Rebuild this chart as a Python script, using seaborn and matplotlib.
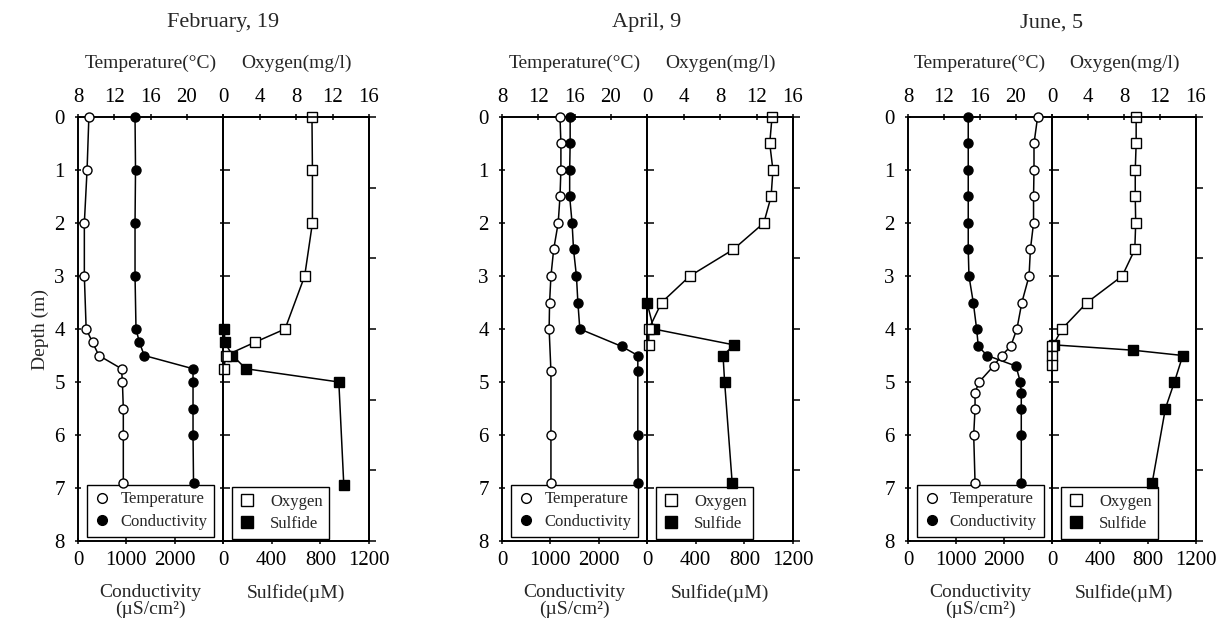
import matplotlib
matplotlib.use("Agg")
import matplotlib.pyplot as plt
from matplotlib.lines import Line2D
import numpy as np
import seaborn as sns

# values
dates = ["February, 19", "April, 9", "June, 5"]

# February 19
feb_tc_depth = [0, 1, 2, 3, 4, 4.25, 4.5, 4.75, 5, 5.5, 6, 6.9]
feb_temp = [9.2, 9.0, 8.7, 8.7, 8.9, 9.6, 10.3, 12.8, 12.9, 13.0, 13.0, 13.0]
feb_cond = [1180, 1190, 1180, 1180, 1200, 1270, 1370, 2380, 2380, 2380, 2380, 2390]
feb_oxy_depth = [0, 1, 2, 3, 4, 4.25, 4.5, 4.75]
feb_oxygen = [9.75, 9.8, 9.8, 8.95, 6.8, 3.5, 0.3, 0.1]
feb_sulf_depth = [4, 4.25, 4.5, 4.75, 5, 6.95]
feb_sulfide = [12, 14, 78, 188, 952, 993]

# April 9
apr_temp_depth = [0, 0.5, 1, 1.5, 2, 2.5, 3, 3.5, 4, 4.8, 6, 6.9]
apr_temp = [14.4, 14.5, 14.5, 14.4, 14.2, 13.7, 13.4, 13.25, 13.2, 13.4, 13.4, 13.4]
apr_cond_depth = [0, 0.5, 1, 1.5, 2, 2.5, 3, 3.5, 4, 4.33, 4.5, 4.8, 6, 6.9]
apr_cond = [1410, 1410, 1400, 1400, 1450, 1480, 1540, 1570, 1610, 2480, 2810, 2810, 2810, 2815]
apr_oxy_depth = [0, 0.5, 1, 1.5, 2, 2.5, 3, 3.5, 4, 4.3]
apr_oxygen = [13.7, 13.45, 13.8, 13.6, 12.8, 9.45, 4.7, 1.6, 0.2, 0.2]
apr_sulf_depth = [3.5, 4.0, 4.3, 4.5, 5.0, 6.9]
apr_sulfide = [0, 55, 715, 625, 638, 700]

# June 5
jun_tc_depth = [0, 0.5, 1, 1.5, 2, 2.5, 3, 3.5, 4, 4.33, 4.5, 4.7, 5, 5.2, 5.5, 6, 6.9]
jun_temp = [22.4, 22.0, 22.0, 21.95, 21.95, 21.6, 21.45, 20.65, 20.1, 19.4, 18.4, 17.5,
            15.9, 15.45, 15.45, 15.3, 15.45]
jun_cond = [1255, 1255, 1255, 1255, 1255, 1255, 1270, 1360, 1430, 1465, 1650, 2250,
            2340, 2360, 2360, 2360, 2360]
jun_oxy_depth = [0, 0.5, 1, 1.5, 2, 2.5, 3, 3.5, 4, 4.33, 4.5, 4.67]
jun_oxygen = [9.35, 9.35, 9.25, 9.25, 9.3, 9.2, 7.8, 3.9, 1.1, 0.05, 0.05, 0.05]
jun_sulf_depth = [4.3, 4.4, 4.5, 5.0, 5.5, 6.9]
jun_sulfide = [20, 675, 1090, 1020, 945, 835]

sns.set_theme(style="ticks")
plt.rcParams["font.family"] = ["Liberation Serif", "DejaVu Serif"]
plt.rcParams["axes.linewidth"] = 1.2
plt.rcParams["xtick.color"] = "black"
plt.rcParams["ytick.color"] = "black"

W, H = 1222, 623
fig = plt.figure(figsize=(W / 100, H / 100), dpi=100)

bottom = 1 - 541 / H
height = (541 - 117) / H

panels = [
    (78, 223, 369, (feb_tc_depth, feb_temp), (feb_tc_depth, feb_cond),
     (feb_oxy_depth, feb_oxygen), (feb_sulf_depth, feb_sulfide)),
    (502, 647, 793, (apr_temp_depth, apr_temp), (apr_cond_depth, apr_cond),
     (apr_oxy_depth, apr_oxygen), (apr_sulf_depth, apr_sulfide)),
    (908, 1052, 1196, (jun_tc_depth, jun_temp), (jun_tc_depth, jun_cond),
     (jun_oxy_depth, jun_oxygen), (jun_sulf_depth, jun_sulfide)),
]


def profile(ax, depth, vals, marker, fill, ms):
    sns.lineplot(x=vals, y=depth, ax=ax, sort=False, estimator=None, color="black",
                 lw=1.1, marker=marker, markersize=ms, markerfacecolor=fill,
                 markeredgecolor="black", markeredgewidth=1, legend=False,
                 clip_on=False, zorder=3)


def box_legend(ax, handles, **kw):
    leg = ax.legend(handles=handles, fancybox=False, edgecolor="black", framealpha=1,
                    fontsize=12, borderaxespad=0, handlelength=1.0,
                    labelspacing=0.4, borderpad=0.4, **kw)
    leg.get_frame().set_linewidth(1.0)
    leg.set_zorder(2.5)


tick_kw = dict(labelsize=15, width=1.1, length=5)

for i, (l, m, r, temp, cond, oxy, sulf) in enumerate(panels):
    # left pair: conductivity (bottom) / temperature (top)
    ax_l = fig.add_axes([l / W, bottom, (m - l) / W, height])
    ax_t = ax_l.twiny()
    profile(ax_l, cond[0], cond[1], "o", "black", 6.5)
    profile(ax_t, temp[0], temp[1], "o", "white", 6.5)
    ax_l.set_xlim(0, 3000)
    ax_t.set_xlim(8, 24)
    ax_l.set_ylim(8, 0)
    ax_l.set_xticks([0, 1000, 2000, 3000], ["0", "1000", "2000", ""])
    ax_t.set_xticks([8, 12, 16, 20, 24], ["8", "12", "16", "20", ""])
    ax_l.set_yticks(range(0, 9), [str(d) for d in range(0, 9)])
    ax_l.tick_params(axis="x", direction="inout", pad=5, **tick_kw)
    ax_t.tick_params(axis="x", direction="inout", pad=5, **tick_kw)
    ax_l.tick_params(axis="y", direction="inout", right=True, pad=7, **tick_kw)
    ax_l.set_xlabel("Conductivity\n(µS/cm²)", fontsize=14, labelpad=10, linespacing=0.95)
    ax_t.set_xlabel("Temperature(°C)", fontsize=14, labelpad=14)
    ax_l.set_ylabel("")
    ax_t.set_ylabel("")

    # right pair: sulfide (bottom) / oxygen (top)
    ax_r = fig.add_axes([m / W, bottom, (r - m) / W, height])
    ax_o = ax_r.twiny()
    profile(ax_r, sulf[0], sulf[1], "s", "black", 7)
    profile(ax_o, oxy[0], oxy[1], "s", "white", 7)
    ax_r.set_xlim(0, 1200)
    ax_o.set_xlim(0, 16)
    ax_r.set_ylim(8, 0)
    ax_r.set_xticks([0, 400, 800, 1200])
    ax_o.set_xticks([0, 4, 8, 12, 16])
    ax_r.set_yticks(range(0, 9), [])
    ax_r.tick_params(axis="x", direction="inout", pad=5, **tick_kw)
    ax_o.tick_params(axis="x", direction="inout", pad=5, **tick_kw)
    ax_r.tick_params(axis="y", direction="in", **tick_kw)
    ax_r.set_xlabel("Sulfide(µM)", fontsize=14, labelpad=10)
    ax_o.set_xlabel("Oxygen(mg/l)", fontsize=14, labelpad=14)
    ax_r.set_ylabel("")
    ax_o.set_ylabel("")

    ax_rr = ax_r.twinx()
    ax_rr.set_ylim(8, 0)
    ax_rr.set_yticks(np.linspace(0, 8, 7), [])
    ax_rr.tick_params(axis="y", direction="out", **tick_kw)

    for a in (ax_l, ax_t, ax_r, ax_o, ax_rr):
        for s in a.spines.values():
            s.set_visible(True)
            s.set_color("black")
            s.set_linewidth(1.2)

    h_left = [
        Line2D([], [], ls="none", marker="o", mfc="white", mec="black", ms=7, label="Temperature"),
        Line2D([], [], ls="none", marker="o", mfc="black", mec="black", ms=7, label="Conductivity"),
    ]
    h_right = [
        Line2D([], [], ls="none", marker="s", mfc="white", mec="black", ms=8, label="Oxygen"),
        Line2D([], [], ls="none", marker="s", mfc="black", mec="black", ms=8, label="Sulfide"),
    ]
    # legends sit on the bottom axes so the deepest markers stay on top of the frame
    box_legend(ax_l, h_left, loc="lower center", bbox_to_anchor=(0.5, 0.01),
               handletextpad=0.6)
    box_legend(ax_r, h_right, loc="lower left", bbox_to_anchor=(0.06, 0.005),
               handletextpad=0.9)

    fig.text(m / W, 1 - 23 / H, dates[i], ha="center", va="center", fontsize=16)

fig.text(40 / W, 1 - 330 / H, "Depth (m)", rotation=90, ha="center", va="center", fontsize=14)

fig.savefig("out.png", dpi=100)
